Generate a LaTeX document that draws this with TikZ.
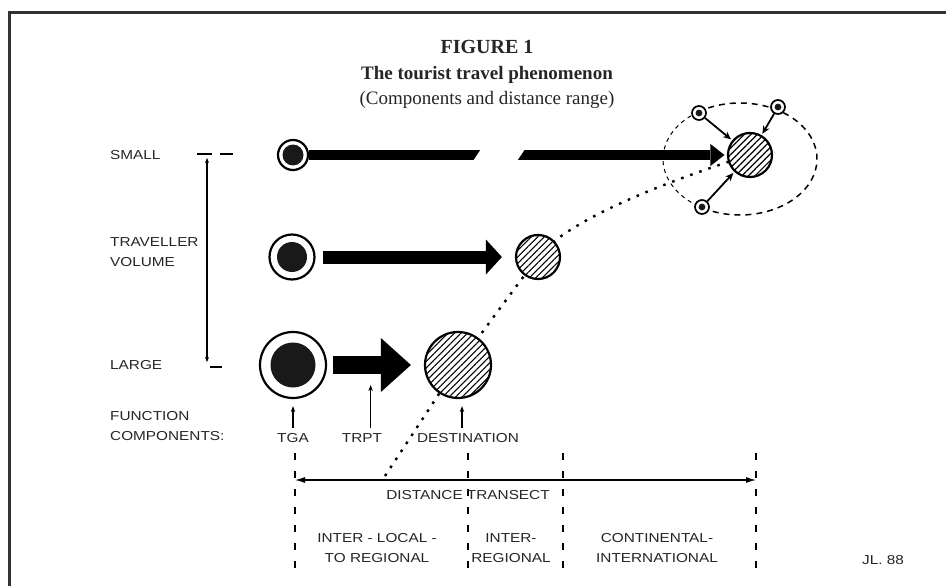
\documentclass[tikz,border=0pt]{standalone}
\usepackage{fontspec}
\setmainfont{Liberation Serif}
\newfontfamily\labelfont{Liberation Sans}[FakeStretch=1.18]
\usepackage{tikz}
\usetikzlibrary{arrows.meta, calc, patterns.meta, backgrounds}

\begin{document}
\begin{tikzpicture}[
    x=1pt, y=-1pt,
    ttl/.style={inner sep=0pt, anchor=base, text=black!85},
    lbl/.style={font=\labelfont\fontsize{13}{20}\selectfont, inner sep=0pt, align=center, text=black!85},
    sidelbl/.style={lbl, anchor=west, align=left},
    origin/.style={circle, draw, line width=2.2pt, fill=white, inner sep=0pt,
        path picture={\fill[black!90] (path picture bounding box.center) circle (#1);}},
    sat/.style={origin=3.4pt, line width=1.7pt, minimum size=14pt},
    dest/.style={circle, draw, line width=2.2pt, inner sep=0pt, preaction={fill=white},
        pattern={Lines[angle=45, distance=4.6pt, line width=1.1pt]}},
    flow/.style n args={3}{line width=#1, -{Triangle[length=#2 0 0, width=#3 0 0, line width=0pt 0 0]}},
    inflow/.style={line width=1.8pt, -{Stealth[length=8pt, width=7pt]}, shorten >=2pt},
    pointer/.style={line width=1.1pt, -{Stealth[length=6pt, width=4.5pt]}},
    trail/.style={line width=2.4pt, dash pattern=on 2.6pt off 7pt},
    boundary/.style={line width=1.8pt, dash pattern=on 7pt off 11pt},
    transect/.style={line width=1.1pt, {Latex[length=10pt, width=6pt]}-{Latex[length=10pt, width=6pt]}},
    zone/.style={line width=1.5pt, dash pattern=on 6pt off 5pt}
]
\useasboundingbox (0,0) rectangle (946,586);

% frame
\draw[line width=3pt, black!80] (9,586) -- (9,13) -- (946,13);

% heading
\node[ttl, font=\fontsize{20}{24}\selectfont\bfseries] (fig) at (487,54) {FIGURE 1};
\node[ttl, font=\fontsize{19}{23}\selectfont\bfseries] (title) at (487,80) {The tourist travel phenomenon};
\node[ttl, font=\fontsize{19}{23}\selectfont] (subtitle) at (487,104) {(Components and distance range)};

% traveller volume scale
\node[sidelbl] (small) at (110,155) {SMALL};
\node[sidelbl] (volume) at (110,252) {TRAVELLER\\VOLUME};
\node[sidelbl] (large) at (110,365) {LARGE};
\node[sidelbl] (function) at (110,426) {FUNCTION\\COMPONENTS:};
\coordinate (volTop) at (207,158);
\coordinate (volBot) at (207,362);
\draw[line width=1.1pt, {Stealth[length=5pt, width=4pt]}-{Stealth[length=5pt, width=4pt]}] (volTop) -- (volBot);
\draw[line width=1.5pt] (197,154) -- (212,154) (220,154) -- (233,154) (210,367) -- (222,367);

% generating regions
\node[origin=10.5pt, minimum size=30pt] (tga1) at (293,155) {};
\node[origin=15pt, minimum size=45pt] (tga2) at (292,257) {};
\node[origin=22.5pt, minimum size=66pt] (tga3) at (293,365) {};

% destination regions
\node[dest, minimum size=44pt] (dest1) at (750,155) {};
\node[dest, minimum size=44pt] (dest2) at (538,257) {};
\node[dest, minimum size=66pt] (dest3) at (458,365) {};

% distance decay trail behind the destinations
\coordinate (trailStart) at (385,476);
\begin{scope}[on background layer]
\fill[white] (0,0) rectangle (946,586);
\draw[trail] (trailStart) -- (dest3.center) -- (dest2.center)
    .. controls +(30,-38) and +(-80,25) .. (dest1.center);
\end{scope}

% transit routes
\draw[flow={18pt}{30pt}{54pt}, shorten <=6pt, shorten >=13pt] (tga3) -- (dest3);
\draw[flow={13pt}{16pt}{35pt}, shorten <=7pt, shorten >=13pt] (tga2) -- (dest2);
\draw[flow={10pt}{14pt}{22pt}, shorten >=3pt] (tga1) -- (dest1);
\coordinate (brk) at (499,155);
\fill[white] ($(brk)+(-26,6)$) -- ($(brk)+(-18,-6)$) -- ($(brk)+(26,-6)$) -- ($(brk)+(18,6)$) -- cycle;

% destination zone with local flows
\coordinate (ctr) at (740,159);
\draw[zone] ($(ctr)+(123:77pt and 56pt)$) arc[start angle=123, end angle=-120, x radius=77pt, y radius=56pt];
\draw[line width=1pt, dash pattern=on 4pt off 4pt] ($(ctr)+(123:77pt and 56pt)$) arc[start angle=123, end angle=240, x radius=77pt, y radius=56pt];
\node[sat] (sat1) at (699,113) {};
\node[sat] (sat2) at (778,107) {};
\node[sat] (sat3) at (702,207) {};
\draw[inflow] (sat1) -- (dest1);
\draw[inflow] (sat2) -- (dest1);
\draw[inflow] (sat3) -- (dest1);

% function components
\node[lbl] (lblTGA) at (293,438) {TGA};
\node[lbl] (lblTRPT) at (362,438) {TRPT};
\node[lbl] (lblDest) at (468,438) {DESTINATION};
\path (tga3) -- (dest3) coordinate[pos=0.45] (trpt);
\draw[pointer, shorten <=5pt, shorten >=7pt] (lblTGA.north) -- (tga3.south);
\draw[pointer, shorten <=5pt, shorten >=20pt] (lblTRPT.north -| trpt) -- (trpt);
\draw[pointer, shorten <=5pt, shorten >=7pt] (lblDest.north -| dest3.south) ++(4,0) -- ($(dest3.south)+(4,0)$);

% distance transect
\foreach \bx/\bname in {295/b1, 468/b2, 563/b3, 756/b4} {
    \coordinate (\bname) at (\bx,480);
    \draw[boundary] (\bx,453) -- (\bx,574);
}
\draw[transect] (b1) -- (b4);
\node[lbl] (transectLbl) at (468,495) {DISTANCE TRANSECT};
\node[lbl] (zone1) at (377,548) {INTER - LOCAL -\\TO REGIONAL};
\node[lbl] (zone2) at (511,548) {INTER-\\REGIONAL};
\node[lbl] (zone3) at (657,548) {CONTINENTAL-\\INTERNATIONAL};
\node[lbl] (sign) at (883,560) {JL. 88};

\end{tikzpicture}
\end{document}
